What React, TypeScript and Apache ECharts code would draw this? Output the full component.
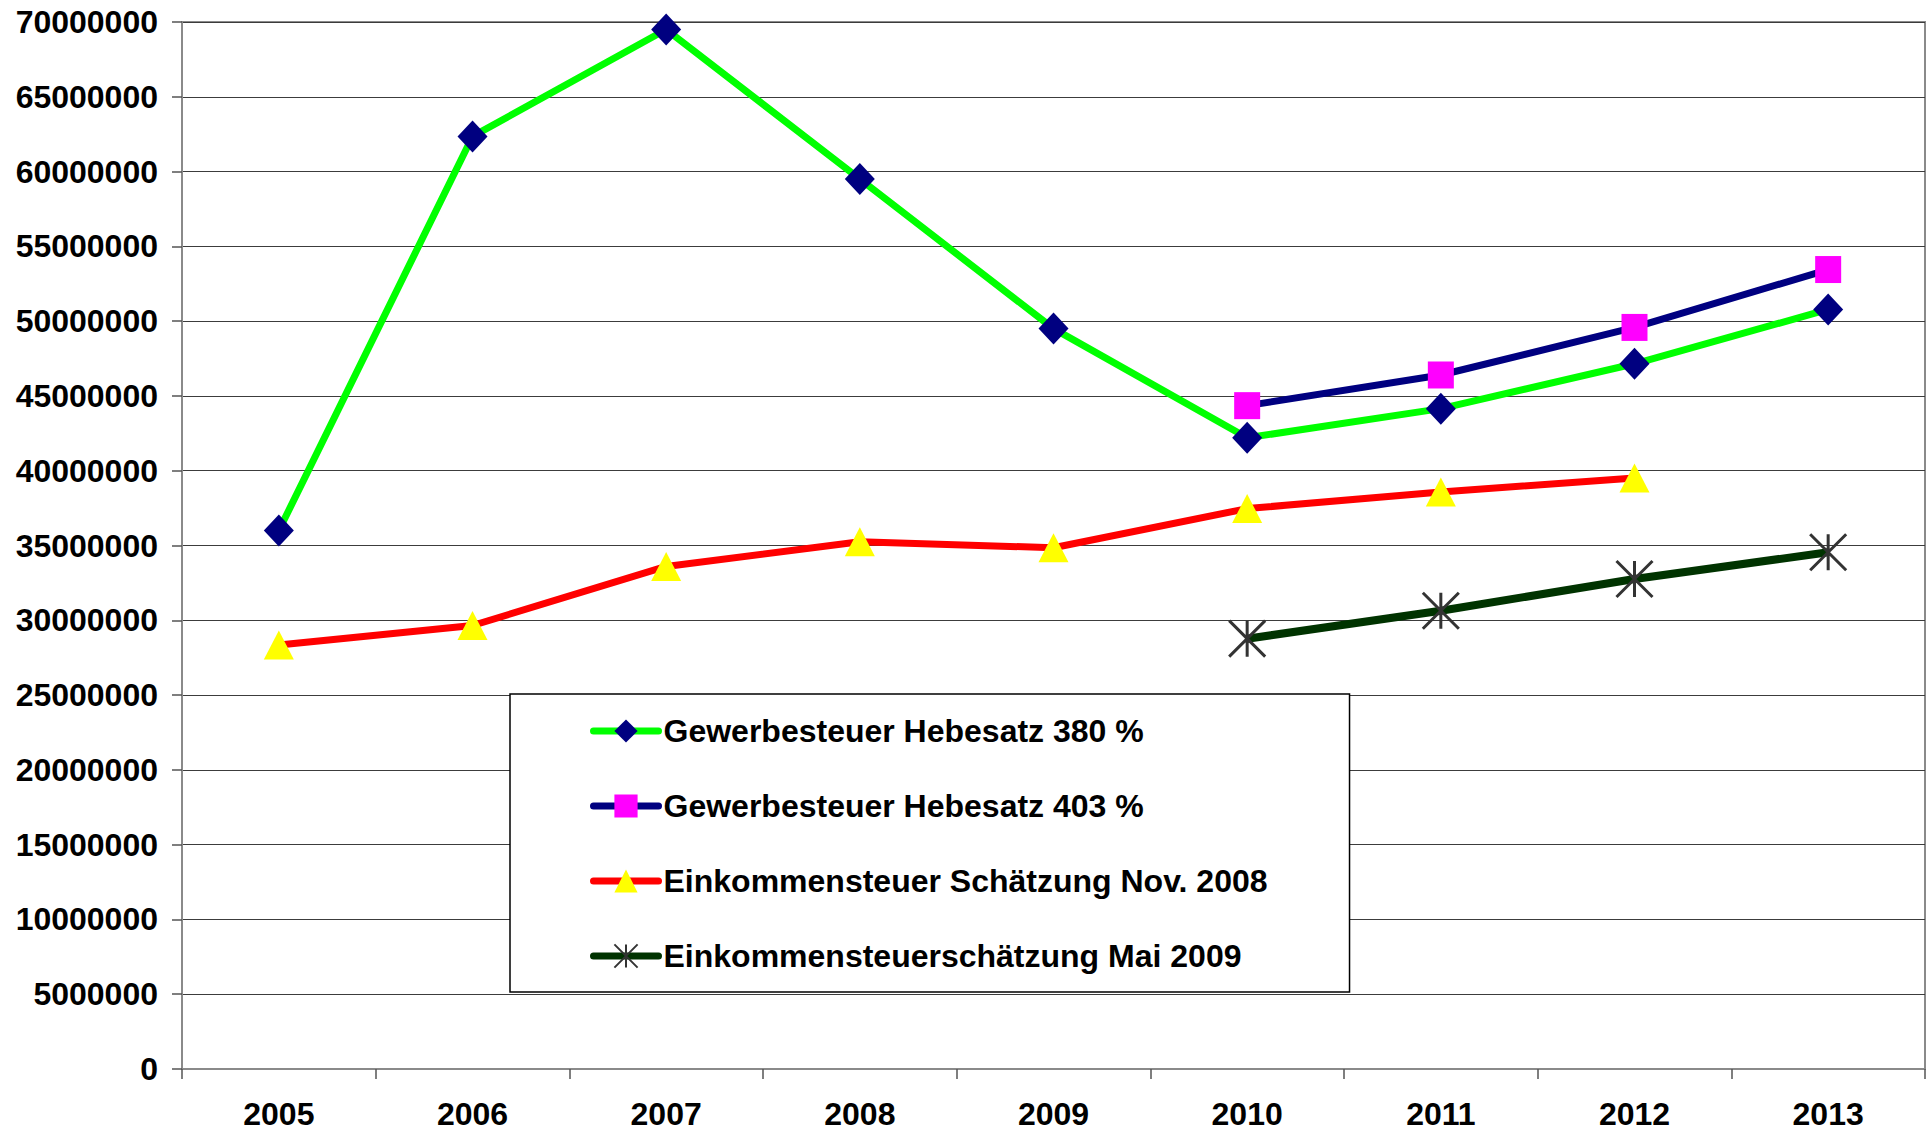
import React, { useEffect, useRef } from "react";
import * as echarts from "echarts";

const years = ["2005", "2006", "2007", "2008", "2009", "2010", "2011", "2012", "2013"];
const gew380 = [36000000, 62350000, 69500000, 59500000, 49500000, 42200000, 44150000, 47150000, 50780000];
const gew403 = [null, null, null, null, null, 44350000, 46400000, 49580000, 53450000];
const estNov2008 = [28350000, 29650000, 33600000, 35250000, 34850000, 37470000, 38570000, 39520000, null];
const estMai2009 = [null, null, null, null, null, 28770000, 30640000, 32760000, 34550000];
const seriesNames = [
  "Gewerbesteuer Hebesatz 380 %",
  "Gewerbesteuer Hebesatz 403 %",
  "Einkommensteuer Schätzung Nov. 2008",
  "Einkommensteuerschätzung Mai 2009",
];

const FONT = "'Liberation Sans', Arial, sans-serif";
const asterisk = "path://M0 0L20 20M20 0L0 20M10 0L10 20";

export default function App() {
  const ref = useRef<HTMLDivElement>(null);
  useEffect(() => {
    if (!ref.current) return;
    const chart = echarts.init(ref.current, null, { renderer: "svg" });
    chart.setOption({
      animation: false,
      backgroundColor: "#ffffff",
      textStyle: { fontFamily: FONT },
      grid: {
        left: 182,
        top: 22,
        right: 1,
        bottom: 64,
        show: true,
        borderColor: "#8a8a8a",
        borderWidth: 2,
        backgroundColor: "transparent",
      },
      legend: {
        left: 510,
        top: 694,
        orient: "vertical",
        padding: [21, 82, 20, 80],
        itemGap: 43,
        itemWidth: 65,
        itemHeight: 29,
        backgroundColor: "#ffffff",
        borderColor: "#000000",
        borderWidth: 1.5,
        lineStyle: { width: 7, cap: "round" },
        textStyle: {
          fontFamily: FONT,
          fontWeight: "bold",
          fontSize: 32,
          color: "#000000",
          lineHeight: 29,
        },
        data: seriesNames,
      },
      xAxis: {
        type: "category",
        data: years,
        boundaryGap: true,
        axisLine: { show: true, lineStyle: { color: "#8a8a8a", width: 2 } },
        axisTick: { show: true, length: 10, lineStyle: { color: "#555", width: 1.5 } },
        axisLabel: {
          color: "#000",
          fontFamily: FONT,
          fontWeight: "bold",
          fontSize: 32,
          lineHeight: 30,
          margin: 30,
        },
        splitLine: { show: false },
      },
      yAxis: {
        type: "value",
        min: 0,
        max: 70000000,
        interval: 5000000,
        axisLine: { show: true, lineStyle: { color: "#8a8a8a", width: 2 } },
        axisTick: { show: true, length: 10, lineStyle: { color: "#555", width: 1.5 } },
        axisLabel: {
          color: "#000",
          fontFamily: FONT,
          fontWeight: "bold",
          fontSize: 32,
          margin: 24,
          formatter: (v: number) => String(v),
        },
        splitLine: { show: true, lineStyle: { color: "#3c3c3c", width: 1 } },
      },
      series: [
        {
          name: seriesNames[0],
          type: "line",
          data: gew380,
          symbol: "diamond",
          symbolSize: [30, 32],
          lineStyle: { color: "#00ff00", width: 7 },
          itemStyle: { color: "#000080" },
          z: 3,
        },
        {
          name: seriesNames[1],
          type: "line",
          data: gew403,
          symbol: "rect",
          symbolSize: [26, 27],
          lineStyle: { color: "#000080", width: 7 },
          itemStyle: { color: "#ff00ff" },
          z: 3,
        },
        {
          name: seriesNames[2],
          type: "line",
          data: estNov2008,
          symbol: "triangle",
          symbolSize: [30, 29],
          lineStyle: { color: "#ff0000", width: 7 },
          itemStyle: { color: "#ffff00" },
          z: 3,
        },
        {
          name: seriesNames[3],
          type: "line",
          data: estMai2009,
          symbol: asterisk,
          symbolSize: [36, 36],
          lineStyle: { color: "#003300", width: 8 },
          itemStyle: { color: "transparent", borderColor: "#333333", borderWidth: 3 },
          z: 3,
        },
      ],
    });
    return () => chart.dispose();
  }, []);
  return (
    <div
      ref={ref}
      style={{ position: "absolute", left: 0, top: 0, width: 1926, height: 1133 }}
    />
  );
}
